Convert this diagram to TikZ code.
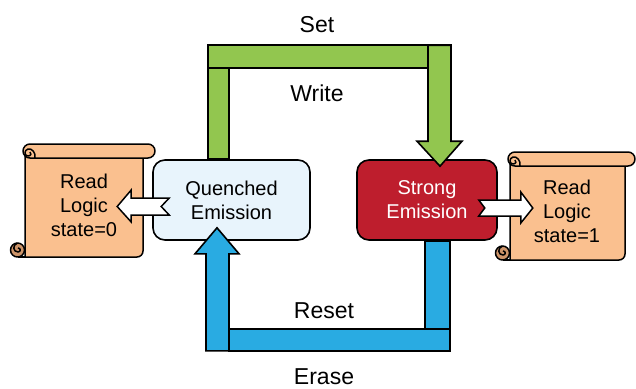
\documentclass[tikz,border=0pt]{standalone}
\usepackage{fontspec}
\setmainfont{Liberation Sans}
\usetikzlibrary{calc}
\definecolor{gArrow}{RGB}{146,198,79}
\definecolor{bArrow}{RGB}{41,171,226}
\definecolor{rBox}{RGB}{190,30,45}
\definecolor{lBox}{RGB}{232,244,252}
\definecolor{scrFill}{RGB}{250,192,143}
\definecolor{scrDark}{RGB}{205,148,105}
\newcommand\drawscroll[6]{% #1 L, #2 T, #3 R body, #4 B, #5 roll right, #6 name
  \filldraw[scrollline,fill=scrFill] (#1,#2+7) -- (#1,#4) [rounded corners=6pt] -- (#3,#4) -- (#3,#2+7) [sharp corners] -- cycle;
  \filldraw[scrollline,fill=scrFill,rounded corners=7pt] (#1-2,#2) rectangle (#5,#2+14);
  \draw[scrollline] (#1+10,#2+14) .. controls (#1+11,#2+9) and (#1+7,#2+4) .. (#1+3,#2+5)
     .. controls (#1-1,#2+6) and (#1-1,#2+12) .. (#1+3,#2+12)
     .. controls (#1+6,#2+12) and (#1+7,#2+9) .. (#1+5,#2+8);
  \filldraw[scrollline,fill=scrDark] (#1-7.5,#4-7) circle[radius=7pt];
  \draw[scrollline] (#1-7.5,#4-14) .. controls (#1-13,#4-12) and (#1-12,#4-5) .. (#1-7,#4-5)
     .. controls (#1-4,#4-5) and (#1-4,#4-9) .. (#1-7,#4-9);
  \draw[scrollline] (#1-7.5,#4) -- (#1,#4);
}
\begin{document}
\begin{tikzpicture}[x=1pt,y=-1pt,
  scrollline/.style={line width=1.5pt,line join=round},
  boxst/.style={draw,line width=1.6pt,rounded corners=12pt,minimum width=157pt,minimum height=80pt,align=center,font=\fontsize{20}{24}\selectfont},
  lab/.style={anchor=base,font=\fontsize{23}{27}\selectfont},
  scrtext/.style={align=center,font=\fontsize{20}{24}\selectfont},
  blk/.style={draw=black,line width=1.6pt,line join=miter},
  wht/.style={draw=black,fill=white,line width=1.5pt,line join=miter}]
\useasboundingbox (0,0) rectangle (636,388);

% scrolls
\drawscroll{25}{144}{143}{257}{155}{sl}
\drawscroll{510}{152}{625}{260}{635}{sr}
\node[scrtext] (readL) at (84,205) {Read\\Logic\\state=0};
\node[scrtext] (readR) at (567,211) {Read\\Logic\\state=1};

% boxes
\node[boxst,fill=lBox] (q) at (231.5,200) {Quenched\\Emission};
\node[boxst,fill=rBox,minimum width=140pt,text=white] (s) at (427,200) {Strong\\Emission};

% white arrows
\filldraw[wht] ($(q.west)+(17,-2)$) -- ($(q.west)+(-21,-2)$) -- ($(q.west)+(-21,-10)$) -- ($(q.west)+(-35,6.5)$)
  -- ($(q.west)+(-21,22)$) -- ($(q.west)+(-21,15)$) -- ($(q.west)+(17,15)$) -- ($(q.west)+(9,6.5)$) -- cycle;
\filldraw[wht] ($(s.east)+(-19,0)$) -- ($(s.east)+(23,0)$) -- ($(s.east)+(23,-8)$) -- ($(s.east)+(35,8)$)
  -- ($(s.east)+(23,23)$) -- ($(s.east)+(23,16)$) -- ($(s.east)+(-19,16)$) -- ($(s.east)+(-13,8)$) -- cycle;

% green arrow (Set / Write)
\filldraw[blk,fill=gArrow] ($(q.north)+(-23.5,0)$) rectangle ($(q.north)+(-2.5,-91)$);
\filldraw[blk,fill=gArrow] ($(q.north)+(-23.5,-91)$) rectangle ($(s.north)+(24,-114)$);
\filldraw[blk,fill=gArrow] ($(s.north)+(1,-114)$) -- ($(s.north)+(24,-114)$) -- ($(s.north)+(24,-18)$)
  -- ($(s.north)+(35,-18)$) -- ($(s.north)+(13,7)$) -- ($(s.north)+(-10,-18)$) -- ($(s.north)+(1,-18)$) -- cycle;

% blue arrow (Reset / Erase)
\filldraw[blk,fill=bArrow] ($(s.south)+(-2,0)$) rectangle ($(s.south)+(23,88)$);
\filldraw[blk,fill=bArrow] ($(q.south)+(-2.5,88)$) rectangle ($(s.south)+(23,110)$);
\filldraw[blk,fill=bArrow] ($(q.south)+(-25.5,110)$) -- ($(q.south)+(-25.5,13)$) -- ($(q.south)+(-36.5,13)$)
  -- ($(q.south)+(-14.5,-13)$) -- ($(q.south)+(7.5,13)$) -- ($(q.south)+(-2.5,13)$) -- ($(q.south)+(-2.5,110)$) -- cycle;

% labels
\node[lab] (set) at (317,32) {Set};
\node[lab] (write) at (317,101) {Write};
\node[lab] (reset) at (324,318) {Reset};
\node[lab,inner ysep=1pt] (erase) at (324,384) {Erase};
\end{tikzpicture}
\end{document}
